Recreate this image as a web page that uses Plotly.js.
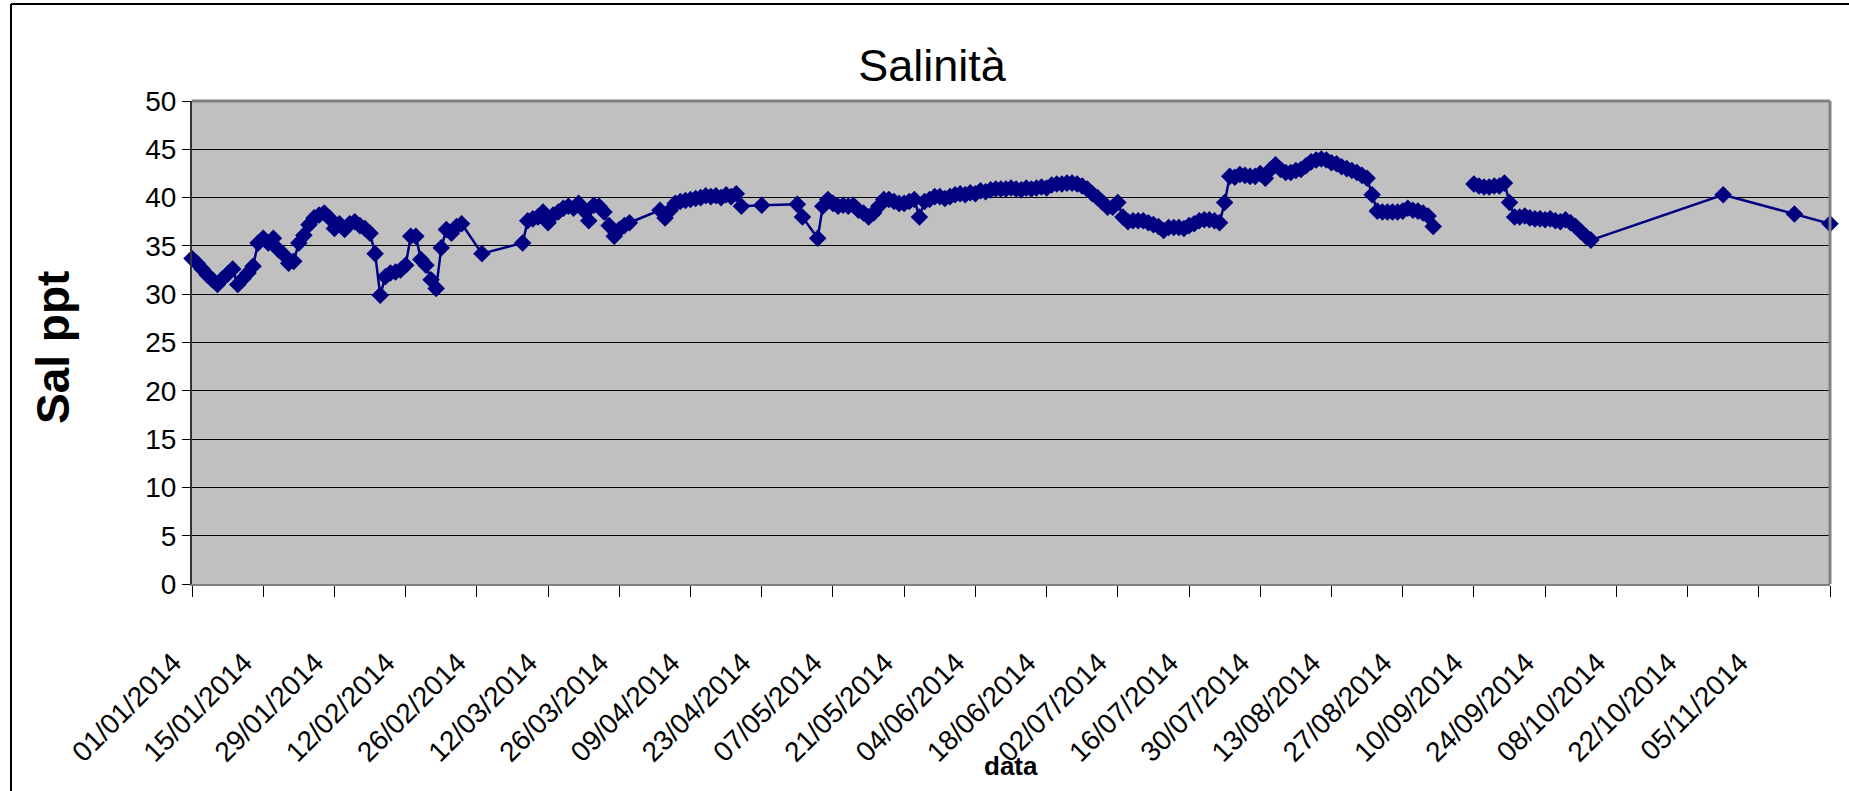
<!DOCTYPE html>
<html>
<head>
<meta charset="utf-8">
<script src="https://cdn.plot.ly/plotly-3.0.1.min.js"></script>
<style>
  body { margin: 0; background: #fff; }
  #grafico { width: 1849px; height: 791px; }
</style>
</head>
<body>
<div id="grafico"></div>
<script>
// Salinità giornaliera (ppt) - ogni blocco e' una serie di giorni consecutivi
var inizioBlocchi = ['2014-01-01', '2014-02-27', '2014-03-07', '2014-04-03', '2014-04-23',
                     '2014-04-30', '2014-05-04', '2014-09-06', '2014-09-10',
                     '2014-10-29', '2014-11-12', '2014-11-19'];

var blocco1 = [33.7, 33.2, 32.6, 32.0, 31.5, 31.0, 31.6, 32.1, 32.6, 31.0,
               31.6, 32.2, 32.9, 35.3, 35.8, 35.3, 35.8, 34.6, 34.1, 33.2,
               33.4, 35.3, 36.1, 37.2, 37.9, 38.2, 38.4, 37.9, 36.8, 37.3,
               36.7, 37.3, 37.5, 37.1, 36.8, 36.3, 34.2, 29.9, 31.8, 32.2,
               32.3, 32.5, 33.0, 36.0, 36.0, 33.6, 33.0, 31.5, 30.6, 34.8,
               36.7, 36.3, 37.0, 37.3];
var blocco2 = [34.2];
var blocco3 = [35.3, 37.6, 37.8, 38.0, 38.5, 37.4, 38.2, 38.5, 38.9, 39.1,
               38.9, 39.4, 38.7, 37.6, 39.2, 39.1, 38.5, 37.1, 36.0, 36.7,
               37.1, 37.4];
var blocco4 = [38.7, 37.9, 38.7, 39.4, 39.6, 39.7, 39.8, 39.9, 40.0, 40.2,
               40.1, 40.2, 40.0, 40.3, 40.1, 40.4, 39.1];
var blocco5 = [39.2];
var blocco6 = [39.3, 38.0];
var blocco7 = [35.8, 39.1, 39.8, 39.4, 39.1, 39.2, 39.1, 39.2, 38.7, 38.4,
               38.0, 38.4, 39.1, 39.8, 39.8, 39.6, 39.4, 39.4, 39.6, 39.8,
               38.0, 39.6, 39.8, 40.1, 40.1, 39.9, 40.1, 40.3, 40.4, 40.3,
               40.5, 40.4, 40.7, 40.6, 40.8, 40.9, 40.9, 40.9, 41.0, 40.9,
               40.8, 41.0, 40.9, 41.0, 41.1, 41.0, 41.3, 41.4, 41.4, 41.5,
               41.5, 41.4, 41.2, 40.9, 40.4, 40.0, 39.5, 39.0, 39.0, 39.5,
               38.0, 37.5, 37.6, 37.6, 37.6, 37.4, 37.2, 37.0, 36.6, 36.9,
               36.9, 36.9, 36.8, 37.1, 37.3, 37.6, 37.7, 37.7, 37.6, 37.4,
               39.5, 42.2, 42.1, 42.4, 42.3, 42.2, 42.2, 42.5, 42.0, 42.9,
               43.4, 42.9, 42.6, 42.6, 42.8, 42.9, 43.3, 43.7, 43.9, 44.0,
               43.9, 43.6, 43.5, 43.2, 43.0, 42.8, 42.6, 42.3, 42.0, 40.3,
               38.6, 38.5, 38.5, 38.5, 38.5, 38.6, 38.9, 38.7, 38.6, 38.4,
               38.1, 37.0];
var bloccoVuoto = [null];   // cella vuota: la linea si interrompe
var blocco8 = [41.4, 41.2, 41.1, 41.1, 41.2, 41.2, 41.5, 39.5, 38.0, 38.0,
               38.1, 37.9, 37.8, 37.8, 37.7, 37.8, 37.6, 37.5, 37.7, 37.4,
               37.0, 36.5, 36.0, 35.6];
var blocco9 = [40.3];
var blocco10 = [38.3];
var blocco11 = [37.3];

var blocchi = [blocco1, blocco2, blocco3, blocco4, blocco5, blocco6, blocco7,
               bloccoVuoto, blocco8, blocco9, blocco10, blocco11];

// etichette asse x (ogni 14 giorni)
var tickDate = ['2014-01-01', '2014-01-15', '2014-01-29', '2014-02-12', '2014-02-26',
                '2014-03-12', '2014-03-26', '2014-04-09', '2014-04-23', '2014-05-07',
                '2014-05-21', '2014-06-04', '2014-06-18', '2014-07-02', '2014-07-16',
                '2014-07-30', '2014-08-13', '2014-08-27', '2014-09-10', '2014-09-24',
                '2014-10-08', '2014-10-22', '2014-11-05', '2014-11-19'];
var tickTesto = ['01/01/2014', '15/01/2014', '29/01/2014', '12/02/2014', '26/02/2014',
                 '12/03/2014', '26/03/2014', '09/04/2014', '23/04/2014', '07/05/2014',
                 '21/05/2014', '04/06/2014', '18/06/2014', '02/07/2014', '16/07/2014',
                 '30/07/2014', '13/08/2014', '27/08/2014', '10/09/2014', '24/09/2014',
                 '08/10/2014', '22/10/2014', '05/11/2014', ''];

var giorno = 86400000;
var date = [];
var sal = [];
for (var i = 0; i < blocchi.length; i++) {
  var t0 = Date.parse(inizioBlocchi[i] + 'T00:00:00Z');
  for (var j = 0; j < blocchi[i].length; j++) {
    date.push(new Date(t0 + j * giorno).toISOString().slice(0, 10));
    sal.push(blocchi[i][j]);
  }
}

var blu = '#000080';

var trace1 = {
  x: date,
  y: sal,
  type: 'scatter',
  mode: 'lines+markers',
  name: 'Sal ppt',
  connectgaps: false,
  cliponaxis: false,
  line: { color: blu, width: 2.5 },
  marker: { symbol: 'diamond', size: 13.5, color: blu, line: { color: blu, width: 0 } }
};

// area del grafico in pixel: x 192..1830, y 101..584
var L = 192, R = 1830, T = 101, B = 584;
var W = R - L, H = B - T;

var layout = {
  width: 1849,
  height: 791,
  margin: { l: L, r: 1849 - R, t: T, b: 791 - B, pad: 0 },
  paper_bgcolor: '#ffffff',
  plot_bgcolor: '#c0c0c0',
  showlegend: false,
  font: { family: 'Liberation Sans, Arial, sans-serif', color: '#000' },
  title: {
    text: 'Salinità',
    font: { size: 45, color: '#000' },
    xref: 'container', x: 932 / 1849,
    yref: 'container', y: 1 - 65 / 791, yanchor: 'middle'
  },
  xaxis: {
    type: 'date',
    range: ['2014-01-01', '2014-11-19'],
    tickmode: 'array',
    tickvals: tickDate,
    ticktext: tickTesto,
    tickangle: -45,
    ticks: 'outside',
    ticklen: 11,
    tickwidth: 1,
    tickcolor: '#000',
    ticklabelstandoff: 38,
    ticklabelshift: -19,
    tickfont: { size: 28 },
    showgrid: false,
    zeroline: false,
    showline: true,
    linecolor: '#808080',
    linewidth: 2
  },
  yaxis: {
    range: [0, 50],
    tick0: 0,
    dtick: 5,
    ticks: 'outside',
    ticklen: 8,
    tickwidth: 1,
    tickcolor: '#000',
    tickfont: { size: 28 },
    showgrid: true,
    gridcolor: '#000',
    gridwidth: 1,
    zeroline: false,
    showline: true,
    linecolor: '#333',
    linewidth: 2
  },
  shapes: [
    // bordo superiore e destro dell'area del grafico
    { type: 'line', xref: 'paper', yref: 'paper', x0: 0, x1: 1, y0: 1, y1: 1,
      line: { color: '#808080', width: 3 } },
    { type: 'line', xref: 'paper', yref: 'paper', x0: 1, x1: 1, y0: 0, y1: 1,
      line: { color: '#808080', width: 3 } },
    // cornice esterna del grafico (lati sinistro e superiore)
    { type: 'line', xref: 'paper', yref: 'paper',
      x0: (11 - L) / W, x1: (11 - L) / W, y0: (B - 791) / H, y1: (B - 4) / H,
      line: { color: '#000', width: 2 } },
    { type: 'line', xref: 'paper', yref: 'paper',
      x0: (11 - L) / W, x1: (1849 - L) / W, y0: (B - 4) / H, y1: (B - 4) / H,
      line: { color: '#000', width: 2 } }
  ],
  annotations: [
    { text: '<b>Sal ppt</b>', xref: 'paper', yref: 'paper',
      x: (53 - L) / W, y: (B - 348) / H, textangle: -90,
      showarrow: false, xanchor: 'center', yanchor: 'middle',
      font: { size: 46, color: '#000' } },
    { text: '<b>data</b>', xref: 'paper', yref: 'paper',
      x: 0.5, y: (B - 766) / H,
      showarrow: false, xanchor: 'center', yanchor: 'middle',
      font: { size: 26, color: '#000' } }
  ]
};

Plotly.newPlot('grafico', [trace1], layout, { displayModeBar: false, staticPlot: true });
</script>
</body>
</html>
